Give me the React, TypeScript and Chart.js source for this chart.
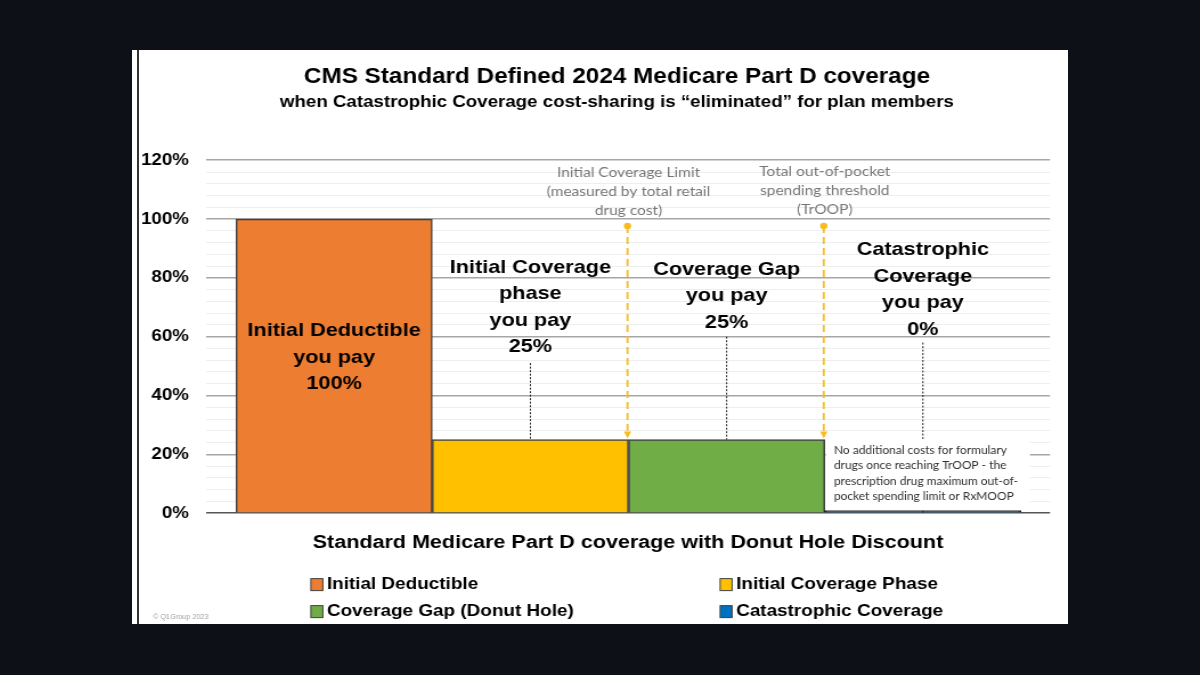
import { useEffect, useRef } from 'react';
import { Chart, registerables } from 'chart.js';

Chart.register(...registerables);

const FONT = '"Liberation Sans", Arial, sans-serif';
const NOTE_FONT = 'Lato, sans-serif';

// the source image is stretched sideways, so the canvas is too
const STRETCH = 1.14;

// chart data
const phases = ['Initial Deductible', 'Initial Coverage Phase', 'Coverage Gap (Donut Hole)', 'Catastrophic Coverage'];
const phaseCenters = [0.5, 1.5, 2.5, 3.5];
const youPay = [100, 25, 25, 0];
const phaseColors = ['#ed7d31', '#ffc000', '#70ad47', '#0070c0'];
const phaseBorders = ['#404040', '#404040', '#404040', '#111111'];

// labels on top of the plot: [x value, first line's y value, lines]
const phaseLabels: [number, number, string[]][] = [
  [0.5, 61.9, ['Initial Deductible', 'you pay', '100%']],
  [1.5, 83.5, ['Initial Coverage', 'phase', 'you pay', '25%']],
  [2.5, 82.9, ['Coverage Gap', 'you pay', '25%']],
  [3.5, 89.4, ['Catastrophic', 'Coverage', 'you pay', '0%']],
];
const limitLabels: [number, number, string[]][] = [
  [2, 115.9, ['Initial Coverage Limit', '(measured by total retail', 'drug cost)']],
  [3, 116.2, ['Total out-of-pocket', 'spending threshold', '(TrOOP)']],
];
const noteLines = [
  'No additional costs for formulary',
  'drugs once reaching TrOOP - the',
  'prescription drug maximum out-of-',
  'pocket spending limit or RxMOOP',
];
const limitLines = [1.995, 2.995];
const leaders: [number, number][] = [[1.5, 51], [2.5, 60], [3.5, 58]];

const textOverlay = {
  id: 'textOverlay',
  afterDatasetsDraw(chart: Chart) {
    const { ctx, scales } = chart;
    const x = scales.x;
    const y = scales.y;
    ctx.save();

    // black dotted leaders
    ctx.strokeStyle = '#222';
    ctx.lineWidth = 1;
    ctx.setLineDash([2, 1.5]);
    leaders.forEach(([v, top]) => {
      ctx.beginPath();
      ctx.moveTo(x.getPixelForValue(v), y.getPixelForValue(top));
      ctx.lineTo(x.getPixelForValue(v), y.getPixelForValue(v === 3.5 ? 0 : 25));
      ctx.stroke();
    });
    ctx.setLineDash([]);

    // white box behind the note covers the grid
    const boxLeft = x.getPixelForValue(3) + 1;
    ctx.fillStyle = '#fff';
    ctx.fillRect(boxLeft, y.getPixelForValue(25), 179, y.getPixelForValue(1) - y.getPixelForValue(25));

    // yellow limit markers
    limitLines.forEach(v => {
      const px = x.getPixelForValue(v);
      const top = y.getPixelForValue(100) + 7;
      const bottom = y.getPixelForValue(25) - 1;
      ctx.strokeStyle = '#f7bc1e';
      ctx.fillStyle = '#f7bc1e';
      ctx.lineWidth = 1.8;
      ctx.setLineDash([7, 4]);
      ctx.beginPath();
      ctx.moveTo(px, top);
      ctx.lineTo(px, bottom - 5);
      ctx.stroke();
      ctx.setLineDash([]);
      ctx.beginPath();
      ctx.arc(px, top, 3.2, 0, Math.PI * 2);
      ctx.fill();
      ctx.beginPath();
      ctx.moveTo(px - 3.2, bottom - 7);
      ctx.lineTo(px + 3.2, bottom - 7);
      ctx.lineTo(px, bottom);
      ctx.closePath();
      ctx.fill();
    });

    ctx.textBaseline = 'middle';

    // phase labels
    ctx.textAlign = 'center';
    ctx.fillStyle = '#000';
    ctx.font = `bold 19px ${FONT}`;
    phaseLabels.forEach(([v, first, lines]) => {
      lines.forEach((line, i) => {
        ctx.fillText(line, x.getPixelForValue(v), y.getPixelForValue(first) + i * 26.5);
      });
    });

    // grey limit captions
    ctx.fillStyle = '#767676';
    ctx.font = `13.6px ${NOTE_FONT}`;
    limitLabels.forEach(([v, first, lines]) => {
      lines.forEach((line, i) => {
        ctx.fillText(line, x.getPixelForValue(v), y.getPixelForValue(first) + i * 19);
      });
    });

    // note in the catastrophic phase
    ctx.textAlign = 'left';
    ctx.fillStyle = '#303030';
    ctx.font = `10.5px ${NOTE_FONT}`;
    noteLines.forEach((line, i) => {
      ctx.fillText(line, boxLeft + 7, y.getPixelForValue(21.4) + i * 15.6);
    });

    // legend, two columns under the axis title
    const bottom = y.getPixelForValue(0);
    ctx.font = `bold 16.6px ${FONT}`;
    phases.forEach((phase, i) => {
      const left = i % 2 === 0 ? x.left + 92 : x.left + 451;
      const mid = bottom + (i < 2 ? 71.5 : 98.5);
      ctx.fillStyle = phaseColors[i];
      ctx.strokeStyle = '#404040';
      ctx.lineWidth = 1;
      ctx.fillRect(left, mid - 6, 10.5, 12);
      ctx.strokeRect(left, mid - 6, 10.5, 12);
      ctx.fillStyle = '#000';
      ctx.fillText(phase, left + 14, mid);
    });

    // copyright
    ctx.fillStyle = '#a0a0a0';
    ctx.font = `6.4px ${FONT}`;
    ctx.fillText('© Q1Group 2023', 18.4, bottom + 104.5);

    ctx.restore();
  },
};

export default function App() {
  const chartRef = useRef<HTMLCanvasElement>(null);

  useEffect(() => {
    if (!chartRef.current) return;

    const chart = new Chart(chartRef.current, {
      type: 'bar',
      data: {
        datasets: [
          {
            data: phaseCenters.map((c, i) => ({ x: c, y: youPay[i] })),
            backgroundColor: phaseColors,
            borderColor: phaseBorders,
            borderWidth: 1.5,
            barPercentage: 1,
            categoryPercentage: 1,
            minBarLength: 2.5,
          },
        ],
      },
      options: {
        animation: false,
        responsive: false,
        layout: { padding: { left: 45.5, right: 15.7, top: 0, bottom: 69.6 } },
        plugins: {
          legend: { display: false },
          tooltip: { enabled: false },
          title: {
            display: true,
            text: 'CMS Standard Defined 2024 Medicare Part D coverage',
            color: '#000',
            font: { family: FONT, size: 21.3, weight: 'bold' },
            padding: { top: 14, bottom: 3 },
          },
          subtitle: {
            display: true,
            text: 'when Catastrophic Coverage cost-sharing is “eliminated” for plan members',
            color: '#000',
            font: { family: FONT, size: 16.4, weight: 'bold' },
            padding: { top: 0, bottom: 48 },
          },
        },
        scales: {
          x: {
            type: 'linear',
            offset: false,
            min: -0.153,
            max: 4.148,
            grid: { display: false },
            border: { display: false },
            ticks: { display: false, stepSize: 1, includeBounds: false },
            title: {
              display: true,
              text: 'Standard Medicare Part D coverage with Donut Hole Discount',
              color: '#000',
              font: { family: FONT, size: 18.9, weight: 'bold' },
              padding: { top: 10.6, bottom: 0 },
            },
          },
          y: {
            min: 0,
            max: 120,
            afterFit: (scale: any) => {
              scale.width = 19.4;
              // the narrow box is only there to centre the title, labels may overflow it
              scale._computeLabelArea = () => undefined;
            },
            border: { display: false },
            grid: {
              drawTicks: false,
              lineWidth: ctx => (ctx.tick.value % 20 === 0 ? 1.5 : 1),
              color: ctx => (ctx.tick.value === 0 ? '#555' : ctx.tick.value % 20 === 0 ? '#a6a6a6' : '#eeeeee'),
            },
            ticks: {
              stepSize: 4,
              autoSkip: false,
              padding: 15,
              color: '#000',
              font: { family: FONT, size: 16.4, weight: 'bold' },
              callback: v => (Number(v) % 20 === 0 ? `${v}%` : ''),
            },
          },
        },
      },
      plugins: [textOverlay],
    });

    return () => {
      chart.destroy();
    };
  }, []);

  return (
    <div style={{ position: 'fixed', inset: 0, background: '#0d1117', overflow: 'hidden' }}>
      <div style={{ position: 'absolute', left: 132, top: 50, width: 936, height: 574, background: '#fff' }} />
      <div style={{ position: 'absolute', left: 137, top: 50, width: 1.5, height: 574, background: '#333' }} />
      <canvas
        ref={chartRef}
        width={821}
        height={574}
        style={{
          position: 'absolute',
          left: 132,
          top: 50,
          display: 'block',
          transform: `scaleX(${STRETCH})`,
          transformOrigin: 'left top',
        }}
      />
    </div>
  );
}
